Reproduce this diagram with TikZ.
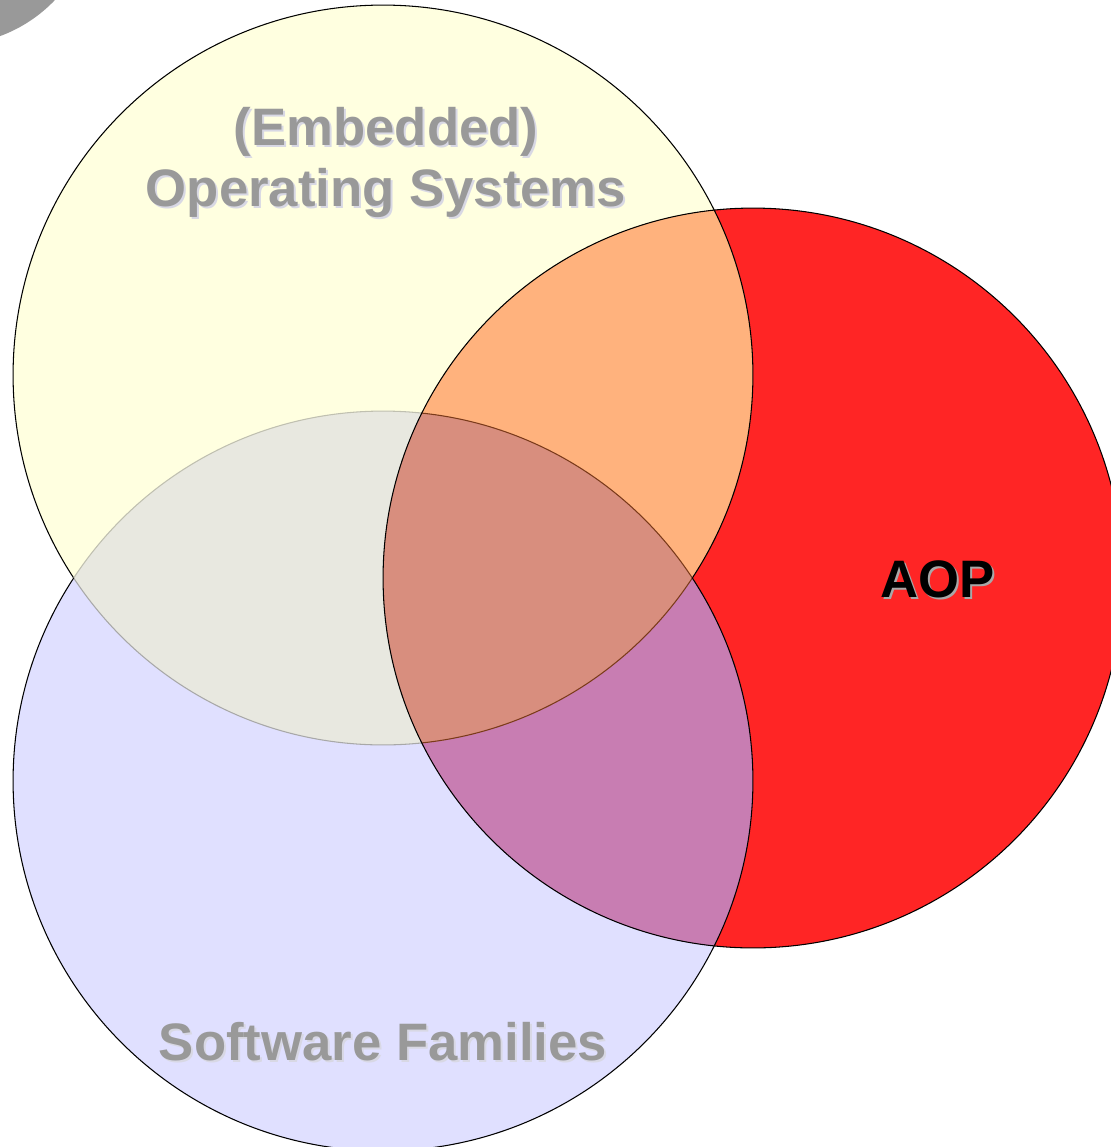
\documentclass[tikz,border=0pt]{standalone}
\usepackage{fontspec}
\setmainfont{Liberation Sans}
\usetikzlibrary{positioning}

\definecolor{osyellow}{HTML}{FFFFE0}
\definecolor{sfblue}{HTML}{E0E0FF}
\definecolor{aopred}{HTML}{FF2525}
\definecolor{lensgray}{HTML}{E8E8E0}
\definecolor{lensorange}{HTML}{FFB27D}
\definecolor{lensmagenta}{HTML}{C87DB2}
\definecolor{lenscore}{HTML}{D88E7E}
\definecolor{blobgray}{HTML}{999999}
\definecolor{titlegray}{HTML}{999999}
\definecolor{titleshade}{HTML}{D8D8E4}
\definecolor{aopshade}{HTML}{A8A8A8}
\definecolor{rimgray}{HTML}{A8A8A8}
\definecolor{rimlight}{HTML}{C0C0B0}
\definecolor{rimbrown}{HTML}{7A3A1A}

\newcommand{\ringr}{7.4cm}

\begin{document}
\begin{tikzpicture}[x=0.02cm, y=-0.02cm, line width=0.6pt,
  title/.style={font=\fontsize{30}{32}\selectfont\bfseries, inner sep=0pt, anchor=base, text=titlegray},
  titleshadow/.style={title, text=titleshade}]
  \useasboundingbox (0,0) rectangle (1111,1147);
  \clip (0,0) rectangle (1111,1147);

  % Circle centres
  \coordinate (os) at (383,375);
  \coordinate (sf) at (383,781);
  \coordinate (aop) at (753,578);

  % Corner blob
  \fill[blobgray] (-50,-100) circle[radius=2.9cm];

  % Plain fills
  \fill[osyellow] (os) circle[radius=\ringr];
  \fill[sfblue] (sf) circle[radius=\ringr];
  \fill[aopred] (aop) circle[radius=\ringr];

  % Overlaps
  \begin{scope}
    \clip (sf) circle[radius=\ringr];
    \fill[lensmagenta] (aop) circle[radius=\ringr];
  \end{scope}
  \begin{scope}
    \clip (os) circle[radius=\ringr];
    \fill[lensgray] (sf) circle[radius=\ringr];
    \fill[lensorange] (aop) circle[radius=\ringr];
    \clip (sf) circle[radius=\ringr];
    \fill[lenscore] (aop) circle[radius=\ringr];
  \end{scope}

  % Rim of the yellow circle
  \begin{scope}[even odd rule]
    \clip (-200,-200) rectangle (1400,1400) (sf) circle[radius=\ringr];
    \draw (os) circle[radius=\ringr];
  \end{scope}
  \begin{scope}[even odd rule]
    \clip (sf) circle[radius=\ringr];
    \clip (-200,-200) rectangle (1400,1400) (aop) circle[radius=\ringr];
    \draw[rimgray] (os) circle[radius=\ringr];
  \end{scope}
  \begin{scope}
    \clip (sf) circle[radius=\ringr];
    \clip (aop) circle[radius=\ringr];
    \draw[rimbrown] (os) circle[radius=\ringr];
  \end{scope}

  % Rim of the blue circle
  \begin{scope}[even odd rule]
    \clip (-200,-200) rectangle (1400,1400) (os) circle[radius=\ringr];
    \draw (sf) circle[radius=\ringr];
  \end{scope}
  \begin{scope}[even odd rule]
    \clip (os) circle[radius=\ringr];
    \clip (-200,-200) rectangle (1400,1400) (aop) circle[radius=\ringr];
    \draw[rimlight] (sf) circle[radius=\ringr];
  \end{scope}
  \begin{scope}
    \clip (os) circle[radius=\ringr];
    \clip (aop) circle[radius=\ringr];
    \draw[rimbrown] (sf) circle[radius=\ringr];
  \end{scope}

  % Rim of the red circle
  \draw (aop) circle[radius=\ringr];

  % Titles with their shadows
  \node[titleshadow] (emb-s) at (388,147) {(Embedded)};
  \node[title] (emb) at (386,145) {(Embedded)};
  \node[titleshadow] (ops-s) at (388,208) {Operating Systems};
  \node[title] (ops) at (386,206) {Operating Systems};
  \node[titleshadow] (swf-s) at (385,1062) {Software Families};
  \node[title] (swf) at (383,1060) {Software Families};
  \node[title, text=aopshade] (aop-s) at (940,599) {AOP};
  \node[title, text=black] (aoptext) at (938,597) {AOP};
\end{tikzpicture}
\end{document}
